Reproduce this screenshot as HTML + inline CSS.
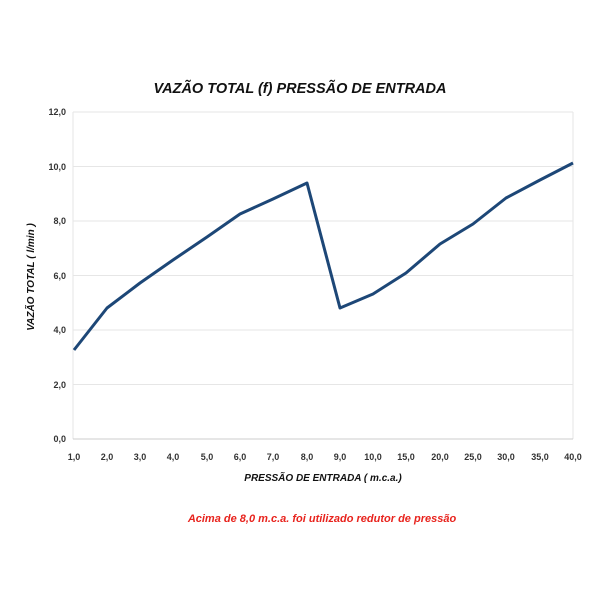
<!DOCTYPE html>
<html><head><style>body{margin:0;background:#fff}svg text{font-family:"Liberation Sans",sans-serif;font-weight:bold}</style></head>
<body>
<svg width="600" height="600" xmlns="http://www.w3.org/2000/svg">
<rect width="600" height="600" fill="#fff"/>
<text x="300" y="93" text-anchor="middle" font-size="14.5" font-style="italic" fill="#111">VAZÃO TOTAL (f) PRESSÃO DE ENTRADA</text>
<g stroke="#e6e6e6" stroke-width="1">
<line x1="73" y1="112" x2="573" y2="112"/>
<line x1="73" y1="166.5" x2="573" y2="166.5"/>
<line x1="73" y1="221" x2="573" y2="221"/>
<line x1="73" y1="275.5" x2="573" y2="275.5"/>
<line x1="73" y1="330" x2="573" y2="330"/>
<line x1="73" y1="384.5" x2="573" y2="384.5"/>
<line x1="573" y1="112" x2="573" y2="439"/>
<line x1="73" y1="112" x2="73" y2="439"/>
<line x1="73" y1="439" x2="573" y2="439" stroke="#ccc"/>
</g>
<g font-size="9" fill="#333" text-anchor="end">
<text x="66" y="115">12,0</text><text x="66" y="170">10,0</text><text x="66" y="224">8,0</text>
<text x="66" y="279">6,0</text><text x="66" y="333">4,0</text><text x="66" y="388">2,0</text><text x="66" y="442">0,0</text>
</g>
<g font-size="9" fill="#333" text-anchor="middle">
<text x="74" y="460">1,0</text><text x="107" y="460">2,0</text><text x="140" y="460">3,0</text><text x="173" y="460">4,0</text>
<text x="207" y="460">5,0</text><text x="240" y="460">6,0</text><text x="273" y="460">7,0</text><text x="307" y="460">8,0</text>
<text x="340" y="460">9,0</text><text x="373" y="460">10,0</text><text x="406" y="460">15,0</text><text x="440" y="460">20,0</text>
<text x="473" y="460">25,0</text><text x="506" y="460">30,0</text><text x="540" y="460">35,0</text><text x="573" y="460">40,0</text>
</g>
<text x="323" y="481" text-anchor="middle" font-size="10" font-style="italic" fill="#111">PRESSÃO DE ENTRADA ( m.c.a.)</text>
<text transform="translate(34,277) rotate(-90)" text-anchor="middle" font-size="10" font-style="italic" fill="#111">VAZÃO TOTAL ( l/min )</text>
<text x="322" y="522" text-anchor="middle" font-size="11" font-style="italic" fill="#e8231d">Acima de 8,0 m.c.a. foi utilizado redutor de pressão</text>
<polyline fill="none" stroke="#1d4777" stroke-width="3" stroke-linejoin="round" points="74,350 107,308 140,283 173,260 207,237 240,214 273,199 307,183 340,308 373,294 406,273 440,244 473,224 506,198 540,180 573,163"/>
</svg>
</body></html>
